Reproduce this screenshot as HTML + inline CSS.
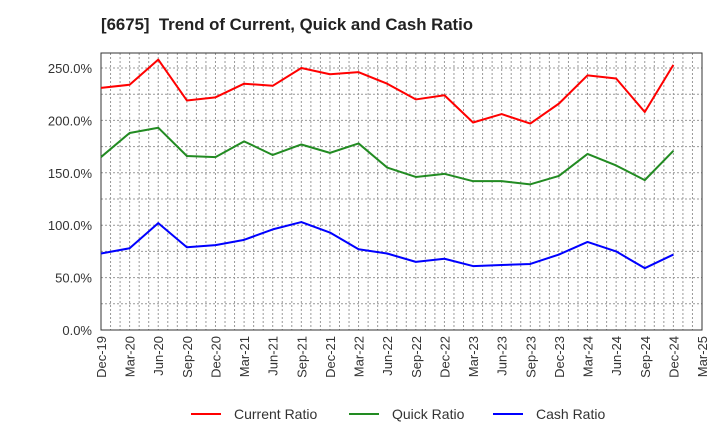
<!DOCTYPE html>
<html><head><meta charset="utf-8"><style>
body{margin:0;background:#fff;font-family:"Liberation Sans",sans-serif}
</style></head><body>
<svg id="c" width="720" height="440" xmlns="http://www.w3.org/2000/svg">
<text x="101" y="30" font-size="16.8" font-weight="bold" fill="#222" style="white-space:pre">[6675]  Trend of Current, Quick and Cash Ratio</text>
<g id="grid"></g><g id="axes"></g><g id="series"></g>
<g font-size="14" fill="#333">
<g><line x1="191" y1="414" x2="221" y2="414" stroke="#f00" stroke-width="2"/><text x="234" y="419">Current Ratio</text></g>
<g><line x1="349" y1="414" x2="379" y2="414" stroke="#228b22" stroke-width="2"/><text x="392" y="419">Quick Ratio</text></g>
<g><line x1="493" y1="414" x2="523" y2="414" stroke="#00f" stroke-width="2"/><text x="536" y="419">Cash Ratio</text></g>
</g>
</svg>
<script>
const categories=["Dec-19","Mar-20","Jun-20","Sep-20","Dec-20","Mar-21","Jun-21","Sep-21","Dec-21","Mar-22","Jun-22","Sep-22","Dec-22","Mar-23","Jun-23","Sep-23","Dec-23","Mar-24","Jun-24","Sep-24","Dec-24","Mar-25"];
const currentRatio=[231,234,258,219,222,235,233,250,244,246,235,220,224,198,206,197,216,243,240,208,253];
const quickRatio=[165,188,193,166,165,180,167,177,169,178,155,146,149,142,142,139,147,168,157,143,171];
const cashRatio=[73,78,102,79,81,86,96,103,93,77,73,65,68,61,62,63,72,84,75,59,72];
const yTicks=[0,50,100,150,200,250];
const L=101,R=702,T=53,B=330,yMax=264.3;
const NS="http://www.w3.org/2000/svg";
const x=i=>L+(R-L)*i/(categories.length-1);
const y=v=>B-(B-T)*v/yMax;
function mk(tag,attrs,parent){const e=document.createElementNS(NS,tag);for(const k in attrs)e.setAttribute(k,attrs[k]);parent.appendChild(e);return e;}
const grid=document.getElementById('grid'),axes=document.getElementById('axes'),ser=document.getElementById('series');
for(let m=1;m<(categories.length-1)*3;m++){const xx=L+(R-L)*m/((categories.length-1)*3);
const l=mk('line',{x1:xx,x2:xx,y1:T,y2:B,stroke:'#999','stroke-dasharray':'2,2','stroke-width':1},grid);

}
for(let v=25;v<yMax;v+=25){const l=mk('line',{x1:L,x2:R,y1:y(v),y2:y(v),stroke:'#999','stroke-dasharray':'2,2','stroke-width':1},grid);

}
const fr=mk('rect',{x:L,y:T,width:R-L,height:B-T,fill:'none',stroke:'#333','stroke-width':1},axes);


yTicks.forEach(v=>{const t=mk('text',{x:L-9,y:y(v)+5,'text-anchor':'end','font-size':'13',fill:'#333'},axes);t.textContent=v.toFixed(1)+'%';

});
categories.forEach((c,i)=>{const t=mk('text',{transform:`translate(${x(i)+5},336) rotate(-90)`,'text-anchor':'end','font-size':'13',fill:'#333'},axes);t.textContent=c;

});
[[currentRatio,'#f00','current-ratio-line'],[quickRatio,'#228b22','quick-ratio-line'],[cashRatio,'#00f','cash-ratio-line']].forEach(([d,col,n])=>{
const p=mk('polyline',{points:d.map((v,i)=>x(i)+','+y(v)).join(' '),fill:'none',stroke:col,'stroke-width':2,'stroke-linejoin':'round'},ser);

});
</script>
</body></html>
